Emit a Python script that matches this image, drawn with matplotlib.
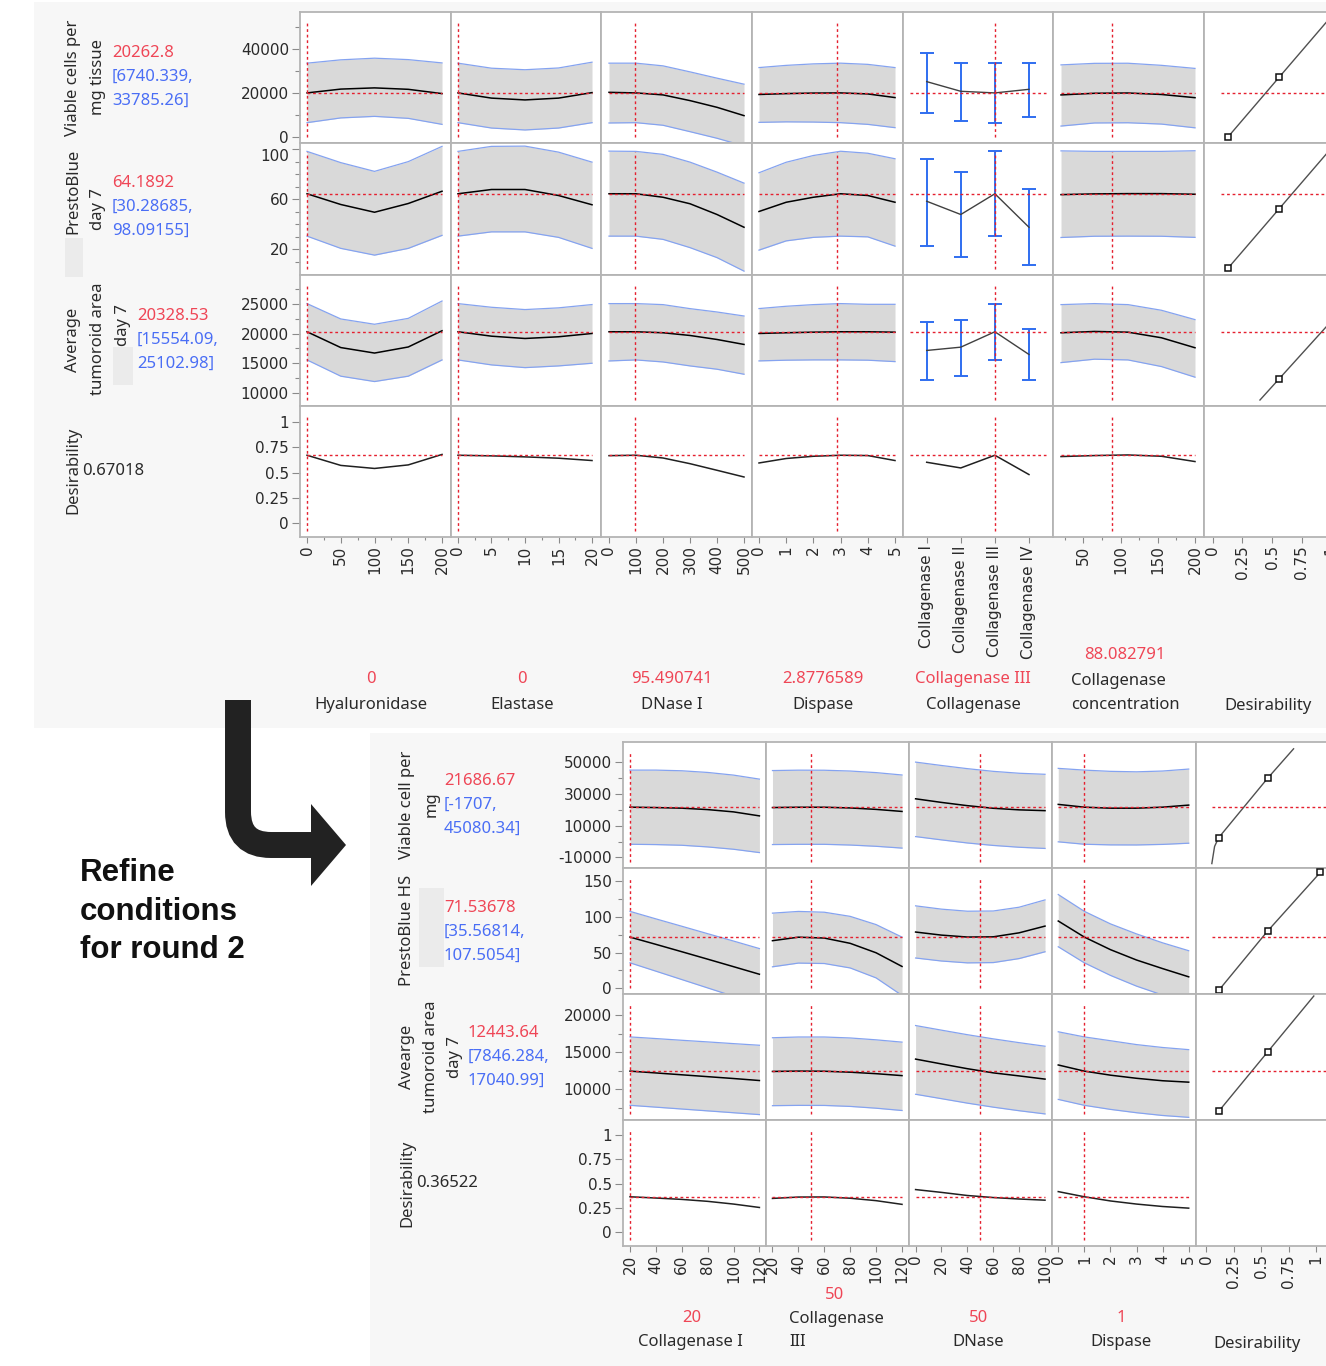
import numpy as np
import matplotlib.pyplot as plt
from matplotlib.patches import Rectangle, Polygon, PathPatch
from matplotlib.path import Path

# ---------------- round 1 profiler (top) ----------------
top_current_text = ["0", "0", "95.490741", "2.8776589", "Collagenase III"]
top_factor_names = ["Hyaluronidase", "Elastase", "DNase I", "Dispase", "Collagenase"]
top_current = [0, 0, 95.490741, 2.8776589, 2, 88.082791]
coll_types = ["Collagenase I", "Collagenase II", "Collagenase III", "Collagenase IV"]
top_x = [[0, 50, 100, 150, 200], [0, 5, 10, 15, 20], [0, 100, 200, 300, 400, 500],
         [0, 1, 2, 3, 4, 5], [0, 1, 2, 3], [20, 65, 110, 155, 200]]

top_resp_current = [20262.8, 64.1892, 20328.53, 0.67018]
top_resp_text = [["20262.8", "[6740.339,", "33785.26]"],
                 ["64.1892", "[30.28685,", "98.09155]"],
                 ["20328.53", "[15554.09,", "25102.98]"]]

# Viable cells per mg tissue
viable_mean = [[20263, 22000, 22550, 21900, 19950], [20263, 17900, 17080, 17900, 20400],
               [20530, 20263, 19360, 16770, 13720, 9940], [19550, 19950, 20200, 20263, 19800, 18150],
               [25400, 21000, 20263, 21900], [19350, 20100, 20230, 19550, 18100]]
viable_lo = [[6740, 8900, 9600, 8700, 5970], [6740, 4300, 3420, 4300, 6740],
             [6600, 6740, 5560, 2650, -350, -3850], [6880, 7110, 7020, 6740, 5970, 4470],
             [11310, 7360, 6740, 9360], [5200, 6600, 6700, 6100, 4400]]
viable_hi = [[33785, 35300, 36050, 35400, 33900], [33785, 31500, 30800, 31600, 34230],
             [33785, 33785, 32560, 29830, 26970, 24240], [31780, 32780, 33460, 33785, 33240, 31780],
             [38440, 33900, 33785, 33900], [33000, 33700, 33750, 32800, 31400]]

# PrestoBlue day 7
presto_mean = [[64.19, 55.6, 49.4, 56.4, 66.2], [64.19, 67.6, 67.6, 62.8, 55.4],
               [64.2, 64.19, 61.4, 56.2, 47.6, 37.4], [50.0, 57.4, 61.4, 64.19, 62.8, 57.4],
               [58.2, 47.6, 64.19, 37.4], [63.5, 64.1, 64.3, 64.3, 63.8]]
presto_lo = [[30.29, 20.5, 15.1, 20.5, 30.9], [30.29, 33.7, 33.7, 29.3, 20.5],
             [30.3, 30.29, 27.7, 21.1, 13.1, 2.3], [19.1, 26.5, 29.3, 30.3, 29.7, 22.3],
             [22.5, 13.3, 30.29, 7.3], [29.2, 30.2, 30.3, 30.2, 29.3]]
presto_hi = [[98.09, 89.1, 82.1, 89.9, 102.1], [98.09, 102.1, 102.3, 97.5, 89.5],
             [98.3, 98.09, 95.7, 89.5, 81.5, 72.7], [81.0, 89.4, 94.8, 98.2, 96.6, 92.2],
             [91.9, 81.3, 98.09, 67.9], [98.5, 98.1, 98.1, 98.1, 98.6]]

# Average tumoroid area day 7
area_mean = [[20328, 17650, 16720, 17750, 20500], [20328, 19580, 19190, 19480, 20040],
             [20330, 20328, 20160, 19700, 19020, 18180], [20040, 20160, 20260, 20330, 20330, 20260],
             [17160, 17720, 20328, 16480], [20160, 20380, 20260, 19310, 17620]]
area_lo = [[15554, 12800, 11890, 12800, 15550], [15554, 14710, 14250, 14540, 14990],
           [15380, 15554, 15210, 14540, 13980, 13130], [15390, 15510, 15560, 15560, 15510, 15270],
           [12080, 12810, 15554, 12080], [15100, 15680, 15554, 14430, 12630]]
area_hi = [[25103, 22500, 21600, 22600, 25540], [25103, 24480, 24090, 24380, 24940],
           [25100, 25103, 24930, 24250, 23680, 23000], [24260, 24650, 24930, 25103, 24980, 24980],
           [21970, 22250, 25103, 20730], [24930, 25103, 24930, 23970, 22390]]

# Desirability
desir_mean = [[0.670, 0.57, 0.54, 0.575, 0.678], [0.670, 0.664, 0.654, 0.641, 0.618],
              [0.666, 0.670, 0.643, 0.587, 0.522, 0.456], [0.594, 0.638, 0.660, 0.670, 0.667, 0.618],
              [0.601, 0.545, 0.670, 0.480], [0.657, 0.667, 0.673, 0.660, 0.608]]

# desirability functions (x = desirability, y = response)
top_dfun_d = [[0.127, 0.559, 1.0], [0.127, 0.559, 1.0], [0.398, 0.559, 1.0]]
top_dfun_y = [[230, 27300, 54900], [4.6, 52.0, 100.4], [8760, 12320, 22070]]
top_dfun_marks = [[0, 1], [0, 1], [1]]

top_xt = [[0, 50, 100, 150, 200], [0, 5, 10, 15, 20], [0, 100, 200, 300, 400, 500],
          [0, 1, 2, 3, 4, 5], [0, 1, 2, 3], [50, 100, 150, 200], [0, 0.25, 0.5, 0.75, 1]]
top_xtl = [["0", "50", "100", "150", "200"], ["0", "5", "10", "15", "20"],
           ["0", "100", "200", "300", "400", "500"], ["0", "1", "2", "3", "4", "5"],
           coll_types, ["50", "100", "150", "200"], ["0", "0.25", "0.5", "0.75", "1"]]
top_xtm = [[25, 75, 125, 175], [2.5, 7.5, 12.5, 17.5], [], [], [], [25, 75, 125, 175], []]
top_yt = [[0, 20000, 40000], [20, 60, 100], [10000, 15000, 20000, 25000], [0, 0.25, 0.5, 0.75, 1]]
top_ytl = [["0", "20000", "40000"], ["20", "60", "100"], ["10000", "15000", "20000", "25000"],
           ["0", "0.25", "0.5", "0.75", "1"]]
top_ytm = [[10000, 30000, 50000], [10, 30, 40, 50, 70, 80, 90], [12500, 17500, 22500, 27500], []]

# ---------------- round 2 profiler (bottom) ----------------
bot_current_text = ["20", "50", "50", "1"]
bot_current = [20, 50, 50, 1]
bot_x = [[20, 40, 60, 80, 100, 120], [20, 40, 60, 80, 100, 120],
         [0, 20, 40, 60, 80, 100], [0, 1, 2, 3, 4, 5]]

bot_resp_current = [21686.67, 71.53678, 12443.64, 0.36522]
bot_resp_text = [["21686.67", "[-1707,", "45080.34]"],
                 ["71.53678", "[35.56814,", "107.5054]"],
                 ["12443.64", "[7846.284,", "17040.99]"]]

viable2_mean = [[21687, 21440, 21060, 20170, 18720, 16200], [21450, 21650, 21650, 21200, 20300, 19000],
                [26980, 24700, 22650, 21000, 20000, 19500], [23450, 21687, 21050, 21050, 21700, 23000]]
viable2_lo = [[-1707, -1920, -2340, -3390, -4860, -6960], [-1900, -1750, -1750, -2200, -3000, -4130],
              [3130, 1050, -900, -2450, -3600, -4350], [-170, -1707, -2100, -2150, -1800, -1050]]
viable2_hi = [[45080, 45080, 44660, 43610, 41930, 39400], [44800, 45050, 45000, 44500, 43500, 42000],
              [50130, 48000, 46000, 44300, 43100, 42440], [46180, 45080, 44300, 44000, 44500, 45740]]

presto2_mean = [[71.54, 61.4, 51.1, 40.7, 30.2, 19.6], [66.5, 71.4, 70.2, 62.8, 49.6, 30.5],
                [78.6, 74.3, 71.6, 71.9, 77.5, 86.9], [94.0, 71.54, 54.0, 39.5, 27.5, 16.0]]
presto2_lo = [[35.57, 23.9, 12.2, 0.5, -11.2, -22.9], [30.0, 35.2, 34.6, 28.4, 14.5, -10.0],
              [42.3, 38.1, 35.5, 35.9, 41.5, 51.0], [58.0, 35.57, 18.0, 3.0, -9.5, -21.0]]
presto2_hi = [[107.5, 97.0, 86.7, 76.3, 66.0, 55.5], [105.0, 107.4, 106.3, 100.5, 89.0, 71.5],
              [115.2, 110.6, 107.7, 108.0, 113.3, 123.5], [131.0, 107.5, 90.0, 76.0, 63.5, 52.5]]

area2_mean = [[12444, 12200, 11950, 11700, 11450, 11180], [12400, 12450, 12430, 12300, 12100, 11840],
              [14060, 13410, 12770, 12210, 11800, 11370], [13270, 12444, 11900, 11480, 11150, 10960]]
area2_lo = [[7846, 7600, 7350, 7100, 6850, 6600], [7800, 7840, 7830, 7700, 7460, 7150],
            [9330, 8740, 8140, 7600, 7120, 6690], [8640, 7846, 7300, 6850, 6480, 6230]]
area2_hi = [[17041, 16820, 16590, 16370, 16140, 15920], [16930, 17030, 17030, 16900, 16650, 16340],
            [18570, 17950, 17340, 16780, 16270, 15790], [17730, 17041, 16530, 16010, 15620, 15330]]

desir2_mean = [[0.365, 0.352, 0.338, 0.318, 0.290, 0.255], [0.348, 0.362, 0.363, 0.350, 0.325, 0.287],
               [0.439, 0.410, 0.378, 0.357, 0.342, 0.330], [0.418, 0.365, 0.322, 0.290, 0.265, 0.248]]

bot_dfun_d = [[0.053, 0.078, 0.115, 0.559, 0.796], [0.115, 0.559, 1.04], [0.115, 0.559, 0.98]]
bot_dfun_y = [[-13900, -3060, 2430, 39850, 58520], [-3.0, 79.8, 162.1], [7030, 15000, 22540]]
bot_dfun_marks = [[2, 3], [0, 1, 2], [0, 1]]

bot_xt = [[20, 40, 60, 80, 100, 120], [20, 40, 60, 80, 100, 120], [0, 20, 40, 60, 80, 100],
          [0, 1, 2, 3, 4, 5], [0, 0.25, 0.5, 0.75, 1]]
bot_xtl = [[str(v) for v in t] for t in bot_xt[:4]] + [["0", "0.25", "0.5", "0.75", "1"]]
bot_xtm = [[], [], [], [], []]
bot_yt = [[-10000, 10000, 30000, 50000], [0, 50, 100, 150], [10000, 15000, 20000], [0, 0.25, 0.5, 0.75, 1]]
bot_ytl = [["-10000", "10000", "30000", "50000"], ["0", "50", "100", "150"],
           ["10000", "15000", "20000"], ["0", "0.25", "0.5", "0.75", "1"]]
bot_ytm = [[0, 20000, 40000], [25, 75, 125], [7500, 12500, 17500], []]

# ---------------- style ----------------
PANEL = '#f7f7f7'
GRID = '#b4b4b4'
BAND = '#d9d9d9'
EDGE = '#85a3f0'
ERR = '#2f6ef0'
REDL = '#e5202f'
RED_TXT = '#ef4656'
BLUE_TXT = '#4a6ef5'
TICK = '#8a8a8a'
LBL = '#2a2a2a'
DOT = (0, (2, 2))

W, H = 1326, 1366
fig = plt.figure(figsize=(W / 100, H / 100), dpi=100)

# pixel-coordinate layer for panels, labels and the arrow
bg = fig.add_axes([0, 0, 1, 1])
bg.set_xlim(0, W)
bg.set_ylim(H, 0)
bg.axis('off')
bg.add_patch(Rectangle((34, 2), W - 34, 726, color=PANEL, lw=0))
bg.add_patch(Rectangle((370, 733), W - 370, H - 733, color=PANEL, lw=0))


def make_cell(x0, x1, y0, y1, xlim, ylim):
    ax = fig.add_axes([x0 / W, 1 - y1 / H, (x1 - x0) / W, (y1 - y0) / H])
    ax.set_facecolor('white')
    for s in ax.spines.values():
        s.set_color(GRID)
        s.set_linewidth(1.3)
    ax.tick_params(which='both', left=False, bottom=False, labelleft=False, labelbottom=False)
    ax.set_xlim(*xlim)
    ax.set_ylim(*ylim)
    return ax


def draw_profiler(cols, rows, xlims, ylims, xs, cur, resp_cur, curves, desir, cat_col,
                  dfun_d, dfun_y, dfun_marks, dfun_start, xt, xtl, xtm, yt, ytl, ytm):
    nf = len(xs)
    grid = []
    for r in range(4):
        grid.append([])
        for c in range(nf + 1):
            ax = make_cell(cols[c], cols[c + 1], rows[r], rows[r + 1], xlims[c], ylims[r])
            grid[r].append(ax)
            if c < nf:
                x = xs[c]
                if r < 3:
                    m, lo, hi = (np.array(a[c], dtype=float) for a in curves[r])
                    if c == cat_col:
                        ax.plot(x, m, color='#404040', lw=1.0, zorder=3)
                        ax.errorbar(x, m, yerr=[m - lo, hi - m], fmt='none', ecolor=ERR,
                                    elinewidth=1.4, capsize=4.7, capthick=1.4, zorder=2)
                    else:
                        ax.fill_between(x, lo, hi, color=BAND, lw=0, zorder=1)
                        ax.plot(x, hi, color=EDGE, lw=0.9, zorder=2)
                        ax.plot(x, lo, color=EDGE, lw=0.9, zorder=2)
                        ax.plot(x, m, color='black', lw=1.1, zorder=3)
                else:
                    ax.plot(x, desir[c], color='#202020', lw=1.1, zorder=3)
                ax.axvline(cur[c], ymin=0.045, ymax=0.93, color=REDL, lw=1.0, ls=DOT, zorder=5)
                if c == cat_col:
                    x0, x1 = -0.5, len(x) - 0.5
                else:
                    x0, x1 = x[0], x[-1]
                ax.plot([x0, x1], [resp_cur[r]] * 2, color=REDL, lw=1.0, ls=DOT, zorder=5)
            elif r < 3:
                d, y = dfun_d[r], dfun_y[r]
                ax.plot(d, y, color='#505050', lw=1.0, zorder=3)
                ax.plot([d[i] for i in dfun_marks[r]], [y[i] for i in dfun_marks[r]], 's',
                        ms=5, mfc='white', mec='#111111', mew=1.1, zorder=4)
                ax.plot([dfun_start, xlims[c][1]], [resp_cur[r]] * 2, color=REDL, lw=1.0,
                        ls=DOT, zorder=5)
            if c == 0:
                ax.set_yticks(yt[r], ytl[r])
                ax.set_yticks(ytm[r], minor=True)
                ax.tick_params(axis='y', which='major', left=True, labelleft=True, length=6,
                               width=0.8, color=TICK, pad=2, labelsize=11, labelcolor=LBL)
                ax.tick_params(axis='y', which='minor', left=True, length=3.5, width=0.8, color=TICK)
            if r == 3:
                ax.set_xticks(xt[c], xtl[c], rotation=90)
                ax.set_xticks(xtm[c], minor=True)
                ax.tick_params(axis='x', which='major', bottom=True, labelbottom=True, length=4,
                               width=0.8, color=TICK, pad=2, labelsize=11, labelcolor=LBL)
                ax.tick_params(axis='x', which='minor', bottom=True, length=2.5, width=0.8, color=TICK)
            ax.set_xlim(*xlims[c])
            ax.set_ylim(*ylims[r])
    return grid


# top profiler
top_grid = draw_profiler(
    cols=[300, 451, 601, 752, 903, 1053, 1204, 1355],
    rows=[12, 143, 275, 406, 537],
    xlims=[(-10.4, 213.3), (-1.04, 21.34), (-29.6, 529.6), (-0.257, 5.294),
           (-0.695, 3.705), (9.25, 212.1), (-0.076, 1.203)],
    ylims=[(-2500, 57040), (-0.8, 104.8), (7746, 29950), (-0.135, 1.155)],
    xs=top_x, cur=top_current, resp_cur=top_resp_current,
    curves=[(viable_mean, viable_lo, viable_hi), (presto_mean, presto_lo, presto_hi),
            (area_mean, area_lo, area_hi)],
    desir=desir_mean, cat_col=4,
    dfun_d=top_dfun_d, dfun_y=top_dfun_y, dfun_marks=top_dfun_marks, dfun_start=0.068,
    xt=top_xt, xtl=top_xtl, xtm=top_xtm, yt=top_yt, ytl=top_ytl, ytm=top_ytm)
# the "100" label sits just under the cell top, as in JMP
top_grid[1][0].yaxis.get_major_ticks()[-1].label1.set_va('top')

# bottom profiler
draw_profiler(
    cols=[623, 766, 909, 1052, 1196, 1339],
    rows=[742, 868, 994, 1120, 1246],
    xlims=[(14.6, 125.1), (15.0, 125.4), (-5.1, 105.4), (-0.24, 5.28), (-0.091, 1.209)],
    ylims=[(-16690, 62820), (-8.0, 168.1), (5874, 22810), (-0.141, 1.154)],
    xs=bot_x, cur=bot_current, resp_cur=bot_resp_current,
    curves=[(viable2_mean, viable2_lo, viable2_hi), (presto2_mean, presto2_lo, presto2_hi),
            (area2_mean, area2_lo, area2_hi)],
    desir=desir2_mean, cat_col=None,
    dfun_d=bot_dfun_d, dfun_y=bot_dfun_y, dfun_marks=bot_dfun_marks, dfun_start=0.053,
    xt=bot_xt, xtl=bot_xtl, xtm=bot_xtm, yt=bot_yt, ytl=bot_ytl, ytm=bot_ytm)


def txt(x, y, s, color=LBL, size=12, **kw):
    bg.text(x, y, s, color=color, fontsize=size, fontfamily='Noto Sans', **kw)


def rot(x, y, s):
    txt(x, y, s, rotation=90, ha='center', va='center')


def value_block(x, y, lines):
    txt(x, y, lines[0], color=RED_TXT, va='center')
    txt(x, y + 24, lines[1], color=BLUE_TXT, va='center')
    txt(x, y + 48, lines[2], color=BLUE_TXT, va='center')


# response labels, top
rot(73, 78, "Viable cells per")
rot(98, 77, "mg tissue")
rot(73, 191, "PrestoBlue")
rot(98, 209, "day 7")
rot(73, 340, "Average")
rot(98, 339, "tumoroid area")
rot(123, 325, "day 7")
rot(73, 470, "Desirability")
bg.add_patch(Rectangle((65, 238), 18, 39, color='#ebebeb', lw=0))
bg.add_patch(Rectangle((113, 347), 20, 38, color='#ebebeb', lw=0))
value_block(112, 53, top_resp_text[0])
value_block(112, 183, top_resp_text[1])
value_block(137, 316, top_resp_text[2])
txt(82, 471, "0.67018", va='center')

# factor labels, top
for cx, cur_s, name in zip([371, 522, 672, 823, 973], top_current_text, top_factor_names):
    txt(cx, 679, cur_s, color=RED_TXT, ha='center', va='center')
    txt(cx, 705, name, ha='center', va='center')
txt(1125, 655, "88.082791", color=RED_TXT, ha='center', va='center')
txt(1071, 681, "Collagenase", va='center')
txt(1071, 705, "concentration", va='center')
txt(1268, 706, "Desirability", ha='center', va='center')

# response labels, bottom
rot(407, 805, "Viable cell per")
rot(432, 804, "mg")
rot(407, 930, "PrestoBlue HS")
rot(407, 1057, "Avearge")
rot(431, 1057, "tumoroid area")
rot(455, 1057, "day 7")
rot(407, 1183, "Desirability")
bg.add_patch(Rectangle((419, 888), 25, 79, color='#ebebeb', lw=0))
value_block(444, 781, bot_resp_text[0])
value_block(444, 908, bot_resp_text[1])
value_block(468, 1033, bot_resp_text[2])
txt(416, 1183, "0.36522", va='center')

# factor labels, bottom
txt(692, 1318, bot_current_text[0], color=RED_TXT, ha='center', va='center')
txt(690, 1342, "Collagenase I", ha='center', va='center')
txt(835, 1295, bot_current_text[1], color=RED_TXT, ha='center', va='center')
txt(789, 1319, "Collagenase", va='center')
txt(789, 1342, "III", va='center')
txt(979, 1318, bot_current_text[2], color=RED_TXT, ha='center', va='center')
txt(978, 1342, "DNase", ha='center', va='center')
txt(1121, 1318, bot_current_text[3], color=RED_TXT, ha='center', va='center')
txt(1121, 1342, "Dispase", ha='center', va='center')
txt(1257, 1344, "Desirability", ha='center', va='center')

# arrow between the two profilers
arrow = Path([(238, 700), (238, 812), (238, 845), (271, 845), (313, 845)],
             [Path.MOVETO, Path.LINETO, Path.CURVE3, Path.CURVE3, Path.LINETO])
bg.add_patch(PathPatch(arrow, fill=False, lw=18.7, ec='#222222', capstyle='butt', joinstyle='miter'))
bg.add_patch(Polygon([(311, 804), (346, 845), (311, 886)], closed=True, color='#222222', lw=0))

for y, s in zip([881, 920, 958], ["Refine", "conditions", "for round 2"]):
    bg.text(80, y, s, fontsize=22.5, fontweight='bold', fontfamily='Liberation Sans',
            color='#111111', va='baseline')

fig.savefig('out.png', dpi=100)
